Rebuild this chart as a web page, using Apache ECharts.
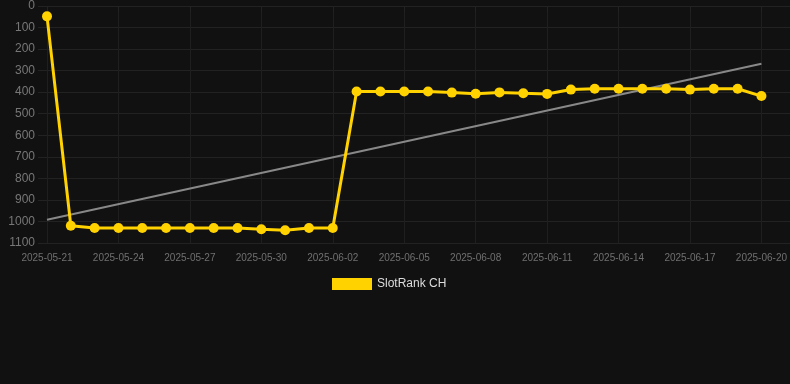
<!DOCTYPE html>
<html>
<head>
<meta charset="utf-8">
<script src="https://cdn.jsdelivr.net/npm/echarts@6/dist/echarts.min.js"></script>
<style>
  html, body { margin: 0; padding: 0; background: #111111; }
  #main { width: 790px; height: 384px; }
</style>
</head>
<body>
<div id="main"></div>
<script>
var dates = [
    '2025-05-21', '2025-05-22', '2025-05-23', '2025-05-24', '2025-05-25', '2025-05-26',
    '2025-05-27', '2025-05-28', '2025-05-29', '2025-05-30', '2025-05-31', '2025-06-01',
    '2025-06-02', '2025-06-03', '2025-06-04', '2025-06-05', '2025-06-06', '2025-06-07',
    '2025-06-08', '2025-06-09', '2025-06-10', '2025-06-11', '2025-06-12', '2025-06-13',
    '2025-06-14', '2025-06-15', '2025-06-16', '2025-06-17', '2025-06-18', '2025-06-19',
    '2025-06-20'
];
var rankCH = [
    48, 1020, 1030, 1030, 1030, 1030,
    1030, 1030, 1030, 1036, 1041, 1030,
    1030, 397, 397, 397, 397, 402,
    407, 401, 405, 408, 388, 384,
    384, 384, 384, 388, 384, 384,
    418
];
var yTicks = [0, 100, 200, 300, 400, 500, 600, 700, 800, 900, 1000, 1100];

// least squares trend over the series
function trend(vals) {
    var n = vals.length, sx = 0, sy = 0, sxy = 0, sxx = 0;
    for (var i = 0; i < n; i++) {
        sx += i; sy += vals[i]; sxy += i * vals[i]; sxx += i * i;
    }
    var k = (n * sxy - sx * sy) / (n * sxx - sx * sx);
    var b = (sy - k * sx) / n;
    return [[0, b], [n - 1, b + k * (n - 1)]];
}

var mainData = rankCH.map(function (v, i) { return [i, v]; });

var dom = document.getElementById('main');
var myChart = echarts.init(dom);
var option = {
    backgroundColor: '#111111',
    animation: false,
    grid: [
        // back grid: only the wide horizontal split lines
        { left: 38, right: 0, top: 6, bottom: 141 },
        // main grid
        { left: 47, right: 28, top: 6, bottom: 141 }
    ],
    legend: {
        data: ['SlotRank CH'],
        top: 273,
        left: 327,
        itemWidth: 40,
        itemHeight: 12,
        itemGap: 6,
        icon: 'rect',
        textStyle: { color: '#dddddd', fontSize: 12 }
    },
    xAxis: [
        {
            gridIndex: 0,
            type: 'value',
            min: 0,
            max: 1,
            show: false
        },
        {
            gridIndex: 1,
            type: 'value',
            min: 0,
            max: dates.length - 1,
            interval: 3,
            axisLine: { show: false },
            axisTick: { show: true, length: 6, lineStyle: { color: '#222' } },
            axisLabel: {
                color: '#707070',
                fontSize: 10,
                margin: 10,
                formatter: function (v) {
                    return dates[Math.round(v)] || '';
                }
            },
            splitLine: {
                show: true,
                lineStyle: { color: '#1f1f1f' }
            }
        }
    ],
    yAxis: [
        {
            gridIndex: 0,
            type: 'value',
            inverse: true,
            min: yTicks[0],
            max: yTicks[yTicks.length - 1],
            interval: 100,
            axisLine: { show: false },
            axisTick: { show: false },
            axisLabel: { show: false },
            splitLine: { lineStyle: { color: '#222222' } }
        },
        {
            gridIndex: 1,
            type: 'value',
            inverse: true,
            min: yTicks[0],
            max: yTicks[yTicks.length - 1],
            interval: 100,
            axisLine: { show: false },
            axisTick: { show: false },
            axisLabel: {
                color: '#777777',
                fontSize: 12,
                margin: 12,
                formatter: function (v) { return String(v); }
            },
            splitLine: { show: false }
        }
    ],
    series: [
        {
            name: 'SlotRank CH',
            type: 'line',
            xAxisIndex: 1,
            yAxisIndex: 1,
            data: mainData,
            symbol: 'circle',
            symbolSize: 10,
            itemStyle: { color: '#ffd200' },
            lineStyle: { color: '#ffd200', width: 3 },
            z: 3
        },
        {
            name: 'trend',
            type: 'line',
            xAxisIndex: 1,
            yAxisIndex: 1,
            data: trend(rankCH),
            symbol: 'none',
            lineStyle: { color: '#888888', width: 2 },
            z: 2
        }
    ]
};
myChart.setOption(option, true);
</script>
</body>
</html>
